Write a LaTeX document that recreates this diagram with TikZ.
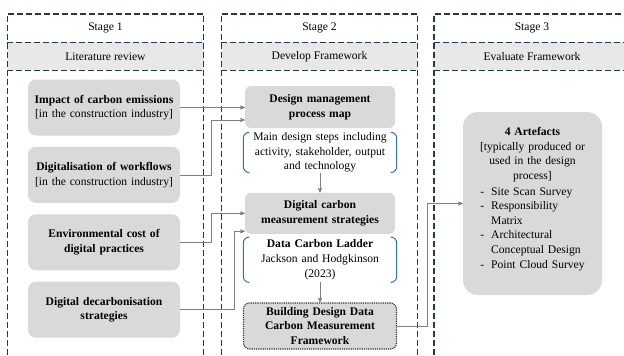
\documentclass[tikz,border=0pt]{standalone}
\usepackage{fontspec}
\setmainfont{Liberation Serif}
\usetikzlibrary{arrows,positioning}
\definecolor{frameblue}{HTML}{1F3B4D}
\definecolor{bracketblue}{HTML}{2F74A3}
\definecolor{boxgrey}{HTML}{D9D9D9}
\definecolor{bandgrey}{HTML}{E8E8E8}
\definecolor{linegrey}{HTML}{7F7F7F}

\begin{document}
\begin{tikzpicture}[x=1pt,y=-1pt,>=stealth',node distance=11pt,
                    font=\fontsize{11.6}{14.6}\selectfont]
  \tikzstyle{frame}=[frameblue,line width=1.4pt,dash pattern=on 6pt off 3pt]
  \tikzstyle{stagehead}=[minimum width=196pt,minimum height=28pt,inner sep=0pt]
  \tikzstyle{band}=[stagehead,fill=bandgrey]
  \tikzstyle{lit}=[fill=boxgrey,rounded corners=8pt,minimum width=152pt,
                   minimum height=56pt,text width=148pt,align=center,inner sep=2pt]
  \tikzstyle{dev}=[fill=boxgrey,rounded corners=6pt,minimum width=150pt,
                   text width=146pt,align=center,inner sep=2pt]
  \tikzstyle{steps}=[text width=153pt,align=center,inner sep=0pt]
  \tikzstyle{fw}=[dev,draw=black!80,densely dotted,line width=1.2pt,
                  minimum width=153pt,minimum height=46pt]
  \tikzstyle{art}=[fill=boxgrey,rounded corners=15pt,minimum width=139pt,
                   minimum height=183pt,text width=131pt,inner sep=4pt,align=center]
  \tikzstyle{brk}=[bracketblue,line width=1pt,rounded corners=6pt]
  \tikzstyle{link}=[linegrey,line width=0.7pt,->]

  \useasboundingbox (0,0) rectangle (624,356);

  % stage headers
  \node[stagehead] (st1) at (105.5,28) {Stage 1};
  \node[band] (lr) [below=0pt of st1] {Literature review};
  \node[stagehead] (st2) at (319.5,28) {Stage 2};
  \node[band] (df) [below=0pt of st2] {Develop Framework};
  \node[stagehead] (st3) at (532,28) {Stage 3};
  \node[band] (ef) [below=0pt of st3] {Evaluate Framework};

  \foreach \s/\b in {st1/lr,st2/df,st3/ef} {
    \draw[frame] ([yshift=-350pt]\s.north west) -- (\s.north west)
                 -- (\s.north east) -- ([yshift=-350pt]\s.north east);
    \draw[frame] (\b.north west) -- (\b.north east)
                 (\b.south west) -- (\b.south east);
  }

  % stage 1
  \node[lit] (imp) at (104,107.5) {\textbf{Impact of carbon emissions}\\{}[in the construction industry]};
  \node[lit] (dig) [below=of imp] {\textbf{Digitalisation of workflows}\\{}[in the construction industry]};
  \node[lit] (env) [below=of dig] {\textbf{Environmental cost of\\digital practices}};
  \node[lit] (dec) [below=of env] {\textbf{Digital decarbonisation\\strategies}};

  % stage 2
  \node[dev,minimum height=42pt] (dmp) at (320,107) {\textbf{Design management\\process map}};
  \node[steps,minimum height=40pt] (stp) [below=4pt of dmp] {Main design steps including\\activity, stakeholder, output\\and technology};
  \node[dev,minimum height=41pt] (dcm) [below=20pt of stp] {\textbf{Digital carbon\\measurement strategies}};
  \node[steps,minimum height=45pt] (dcl) [below=3pt of dcm] {\textbf{Data Carbon Ladder}\\Jackson and Hodgkinson\\(2023)};
  \node[fw] (bdf) [below=20pt of dcl] {\textbf{Building Design Data\\Carbon Measurement\\Framework}};

  \foreach \n in {stp,dcl} {
    \draw[brk] ([xshift=6pt]\n.north west) -- (\n.north west)
               -- (\n.south west) -- ([xshift=6pt]\n.south west);
    \draw[brk] ([xshift=-6pt]\n.north east) -- (\n.north east)
               -- (\n.south east) -- ([xshift=-6pt]\n.south east);
  }

  % stage 3
  \node[art] (art) at (532.5,203.5) {\textbf{4 Artefacts}\\{}[typically produced or\\used in the design\\process]\\[2pt]
    \begin{tabular}{@{}l@{\hspace{7pt}}l@{}}
      - & Site Scan Survey\\
      - & Responsibility\\
        & Matrix\\
      - & Architectural\\
        & Conceptual Design\\
      - & Point Cloud Survey
    \end{tabular}\hspace*{3pt}\\[6pt]\mbox{}};

  % connectors
  \draw[link] (imp.east) -- (imp.east -| dmp.west);
  \draw[link] (dig.east) -| ([xshift=-33pt,yshift=-13pt]dmp.west) -- ([yshift=-13pt]dmp.west);
  \draw[link] (env.east) -| ([xshift=-33pt]dcm.west) -- (dcm.west);
  \draw[link] (dec.east) -| ([xshift=-10pt,yshift=-18pt]dcm.west) -- ([yshift=-18pt]dcm.west);
  \draw[link] (stp.south) -- (dcm.north);
  \draw[link] (dcl.south) -- (bdf.north);
  \draw[link] (bdf.east) -| ([xshift=-35pt]art.west) -- (art.west);
\end{tikzpicture}
\end{document}
